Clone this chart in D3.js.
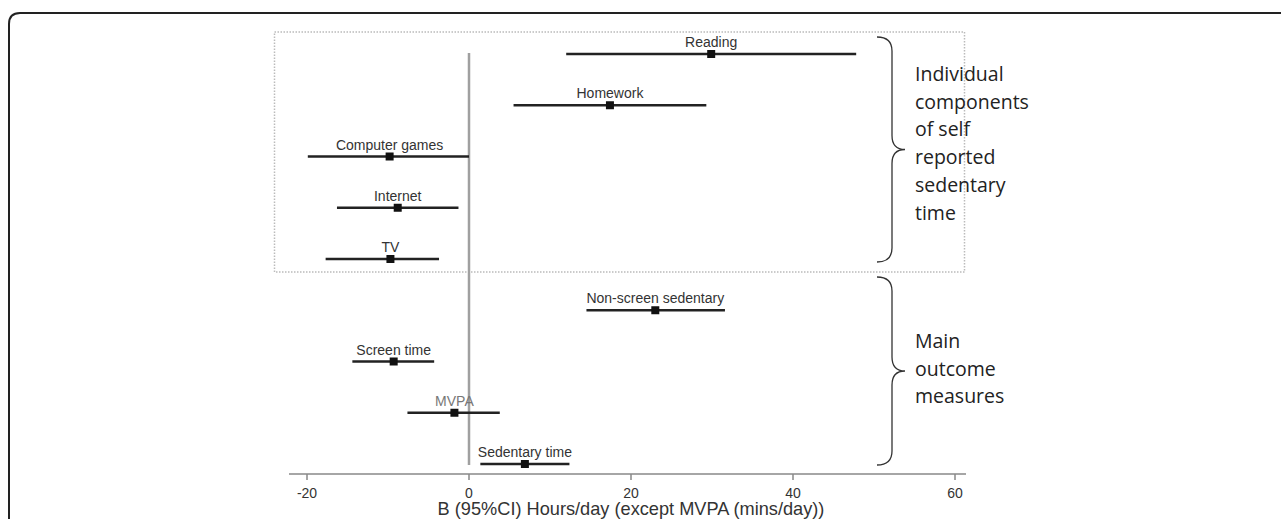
<!DOCTYPE html>
<html>
<head>
<meta charset="utf-8">
<script src="https://cdn.jsdelivr.net/npm/d3@7"></script>
<style>
  body { margin: 0; background: #fff; }
  svg { display: block; }
</style>
</head>
<body>
<svg id="chart" width="1281" height="519"></svg>
<script>
// outcomes, top to bottom
const labels = ["Reading", "Homework", "Computer games", "Internet", "TV",
                "Non-screen sedentary", "Screen time", "MVPA", "Sedentary time"];
const estimates = [29.9, 17.4, -9.8, -8.8, -9.7, 23.0, -9.3, -1.8, 6.9];
const lower = [12.0, 5.5, -19.9, -16.3, -17.7, 14.5, -14.4, -7.6, 1.4];
const upper = [47.8, 29.3, 0.0, -1.3, -3.7, 31.6, -4.3, 3.8, 12.4];
const xTicks = [-20, 0, 20, 40, 60];
const groupText = [
  ["Individual", "components", "of self", "reported", "sedentary", "time"],
  ["Main", "outcome", "measures"]
];
const xTitle = "B (95%CI) Hours/day (except MVPA (mins/day))";

const rows = labels.map((l, i) => ({ label: l, est: estimates[i], lo: lower[i], hi: upper[i] }));

const svg = d3.select("#chart");

const x = d3.scaleLinear().domain([-20, 60]).range([307, 955]);
const y = d3.scalePoint().domain(labels).range([54, 464]);

// outer frame with rounded top-left corner
svg.append("path")
  .attr("d", "M9,530 L9,24 Q9,13 20,13 L1290,13")
  .attr("fill", "none")
  .attr("stroke", "#222")
  .attr("stroke-width", 2);

// dotted box around the individual components
svg.append("rect")
  .attr("x", 274.5).attr("y", 32)
  .attr("width", 690).attr("height", 240)
  .attr("fill", "none")
  .attr("stroke", "#bbb")
  .attr("stroke-width", 1.5)
  .attr("stroke-dasharray", "1.5,1.5");

// x axis
const axisY = 474;
svg.append("line")
  .attr("x1", 289).attr("x2", 966)
  .attr("y1", axisY).attr("y2", axisY)
  .attr("stroke", "#888").attr("stroke-width", 1.5);

svg.selectAll(".tick")
  .data(xTicks)
  .join("line")
  .attr("class", "tick")
  .attr("x1", d => x(d)).attr("x2", d => x(d))
  .attr("y1", axisY).attr("y2", axisY + 6)
  .attr("stroke", "#888").attr("stroke-width", 1.5);

svg.selectAll(".tickLabel")
  .data(xTicks)
  .join("text")
  .attr("class", "tickLabel")
  .attr("x", d => x(d))
  .attr("y", 498)
  .attr("text-anchor", "middle")
  .attr("font-family", "Liberation Sans, Arial, sans-serif")
  .attr("font-size", 14)
  .attr("fill", "#333")
  .text(d => d);

svg.append("text")
  .attr("x", 631)
  .attr("y", 515)
  .attr("text-anchor", "middle")
  .attr("font-family", "Liberation Sans, Arial, sans-serif")
  .attr("font-size", 18.2)
  .attr("fill", "#333")
  .text(xTitle);

// zero reference line
svg.append("line")
  .attr("x1", x(0)).attr("x2", x(0))
  .attr("y1", 53).attr("y2", 465)
  .attr("stroke", "#a0a0a0").attr("stroke-width", 2.5);

// confidence intervals
svg.selectAll(".ci")
  .data(rows)
  .join("line")
  .attr("class", "ci")
  .attr("x1", d => x(d.lo)).attr("x2", d => x(d.hi))
  .attr("y1", d => y(d.label)).attr("y2", d => y(d.label))
  .attr("stroke", "#222").attr("stroke-width", 2.5);

// point estimates
const s = 8;
svg.selectAll(".pt")
  .data(rows)
  .join("rect")
  .attr("class", "pt")
  .attr("x", d => x(d.est) - s / 2)
  .attr("y", d => y(d.label) - s / 2)
  .attr("width", s).attr("height", s)
  .attr("fill", "#111");

// labels above each estimate
svg.selectAll(".lbl")
  .data(rows)
  .join("text")
  .attr("class", "lbl")
  .attr("x", d => x(d.est))
  .attr("y", d => y(d.label) - 7)
  .attr("text-anchor", "middle")
  .attr("font-family", "Liberation Sans, Arial, sans-serif")
  .attr("font-size", 14)
  .attr("fill", d => d.label === "MVPA" ? "#777" : "#333")
  .text(d => d.label);

// curly braces
function brace(x0, top, bot) {
  const x1 = x0 + 15, x2 = x0 + 28, r = 14, mid = (top + bot) / 2;
  return `M${x0},${top} Q${x1},${top} ${x1},${top + r} L${x1},${mid - r} ` +
         `Q${x1},${mid} ${x2},${mid} Q${x1},${mid} ${x1},${mid + r} ` +
         `L${x1},${bot - r} Q${x1},${bot} ${x0},${bot}`;
}
const braces = [[37, 262], [277, 465]];
svg.selectAll(".brace")
  .data(braces)
  .join("path")
  .attr("class", "brace")
  .attr("d", d => brace(877, d[0], d[1]))
  .attr("fill", "none")
  .attr("stroke", "#333")
  .attr("stroke-width", 1.3);

// group descriptions
const textTop = [81, 348];
groupText.forEach((lines, g) => {
  svg.append("g")
    .selectAll("text")
    .data(lines)
    .join("text")
    .attr("x", 915)
    .attr("y", (d, i) => textTop[g] + i * 27.7)
    .attr("font-family", "Open Sans, sans-serif")
    .attr("font-size", 19.5)
    .attr("fill", "#222")
    .text(d => d);
});
</script>
</body>
</html>
